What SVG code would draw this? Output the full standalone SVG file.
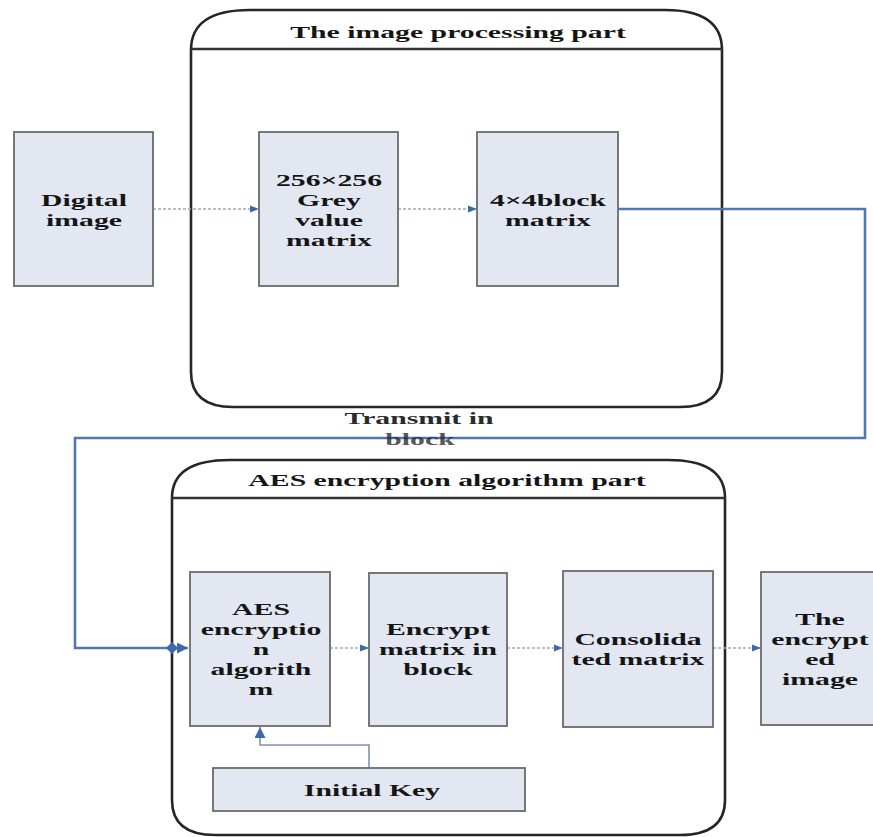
<svg xmlns="http://www.w3.org/2000/svg" width="873" height="837" viewBox="0 0 873 837">
<style>
.box{fill:#e2e7f1;stroke:#6b6b6b;stroke-width:1.8}
.cont{fill:#ffffff;stroke:#262626;stroke-width:2.6}
.sep{stroke:#333;stroke-width:2.4}
.t{font-family:"Liberation Serif","Times New Roman",serif;font-weight:bold;font-size:17px;fill:#151515;text-anchor:middle}
.tg{font-family:"Liberation Serif","Times New Roman",serif;font-weight:bold;font-size:17px;fill:#2a2a2a;text-anchor:middle}
.dash{fill:none;stroke:#9aaac4;stroke-width:1.6;stroke-dasharray:3 2}
.main{fill:none;stroke:#5277b0;stroke-width:2.6}
.key{fill:none;stroke:#7d92bb;stroke-width:1.6}
</style>
<defs>
<marker id="ah" viewBox="0 0 10 10" refX="10" refY="5" markerWidth="9" markerHeight="9" markerUnits="userSpaceOnUse" orient="auto">
<path d="M0,1 L10,5 L0,9 z" fill="#3e6aab"/>
</marker>
<marker id="ahk" viewBox="0 0 10 10" refX="10" refY="5" markerWidth="11" markerHeight="11" markerUnits="userSpaceOnUse" orient="auto">
<path d="M0,0 L10,5 L0,10 z" fill="#3e6aab"/>
</marker>
</defs>
<rect width="873" height="837" fill="#ffffff"/>

<g id="container-image-processing">
<path class="cont" d="M191,372 V50 Q191,10 250,10 H665 Q722,10 722,50 V372 Q722,407 680,407 H233 Q191,407 191,372 Z"/>
<line class="sep" x1="191" y1="49" x2="722" y2="49"/>
<text class="t" transform="translate(458,38) scale(1.75,1)">The image processing part</text>
</g>

<g id="container-aes">
<path class="cont" d="M172,800 V498 Q172,460 230,460 H668 Q725,460 725,498 V800 Q725,835 680,835 H215 Q172,835 172,800 Z"/>
<line class="sep" x1="172" y1="498" x2="725" y2="498"/>
<text class="t" transform="translate(447,486) scale(1.75,1)">AES encryption algorithm part</text>
</g>

<g id="connectors">
<path class="main" d="M618,209 H865 V438 H75 V648 H188" marker-end="url(#ahk)"/>
<path d="M172,642 L178,648 L172,654 L166,648 Z" fill="#3e6aab"/>
<line class="dash" x1="153" y1="209" x2="259" y2="209" marker-end="url(#ah)"/>
<line class="dash" x1="398" y1="209" x2="477" y2="209" marker-end="url(#ah)"/>
<line class="dash" x1="330" y1="648" x2="369" y2="648" marker-end="url(#ah)"/>
<line class="dash" x1="507" y1="648" x2="563" y2="648" marker-end="url(#ah)"/>
<line class="dash" x1="713" y1="648" x2="761" y2="648" marker-end="url(#ah)"/>
<path class="key" d="M369,768 V745 H260 V727" marker-end="url(#ahk)"/>
</g>

<g id="label-transmit">
<text class="tg" transform="translate(419,424) scale(1.75,1)">Transmit in</text>
<text class="tg" transform="translate(420,445) scale(1.75,1)" fill-opacity="0.8">block</text>
</g>

<g id="node-digital-image">
<rect class="box" x="14" y="132" width="139" height="154"/>
<text class="t" transform="translate(84,206) scale(1.75,1)">Digital</text>
<text class="t" transform="translate(84,226) scale(1.75,1)">image</text>
</g>

<g id="node-grey-matrix">
<rect class="box" x="259" y="132" width="139" height="154"/>
<text class="t" transform="translate(329,186) scale(1.75,1)">256×256</text>
<text class="t" transform="translate(329,206) scale(1.75,1)">Grey</text>
<text class="t" transform="translate(329,226) scale(1.75,1)">value</text>
<text class="t" transform="translate(329,246) scale(1.75,1)">matrix</text>
</g>

<g id="node-block-matrix">
<rect class="box" x="477" y="132" width="141" height="154"/>
<text class="t" transform="translate(548,206) scale(1.75,1)">4×4block</text>
<text class="t" transform="translate(548,226) scale(1.75,1)">matrix</text>
</g>

<g id="node-aes-algorithm">
<rect class="box" x="190" y="572" width="140" height="154"/>
<text class="t" transform="translate(261,615) scale(1.75,1)">AES</text>
<text class="t" transform="translate(261,635) scale(1.75,1)">encryptio</text>
<text class="t" transform="translate(261,655) scale(1.75,1)">n</text>
<text class="t" transform="translate(261,675) scale(1.75,1)">algorith</text>
<text class="t" transform="translate(261,695) scale(1.75,1)">m</text>
</g>

<g id="node-encrypt-matrix">
<rect class="box" x="369" y="573" width="138" height="153"/>
<text class="t" transform="translate(438,635) scale(1.75,1)">Encrypt</text>
<text class="t" transform="translate(438,655) scale(1.75,1)">matrix in</text>
<text class="t" transform="translate(438,675) scale(1.75,1)">block</text>
</g>

<g id="node-consolidated">
<rect class="box" x="563" y="571" width="150" height="156"/>
<text class="t" transform="translate(638,645) scale(1.75,1)">Consolida</text>
<text class="t" transform="translate(638,665) scale(1.75,1)">ted matrix</text>
</g>

<g id="node-encrypted-image">
<rect class="box" x="761" y="572" width="130" height="153"/>
<text class="t" transform="translate(820,625) scale(1.75,1)">The</text>
<text class="t" transform="translate(820,645) scale(1.75,1)">encrypt</text>
<text class="t" transform="translate(820,665) scale(1.75,1)">ed</text>
<text class="t" transform="translate(820,685) scale(1.75,1)">image</text>
</g>

<g id="node-initial-key">
<rect class="box" x="213" y="768" width="312" height="43"/>
<text class="t" transform="translate(372,796) scale(1.75,1)">Initial Key</text>
</g>
</svg>
